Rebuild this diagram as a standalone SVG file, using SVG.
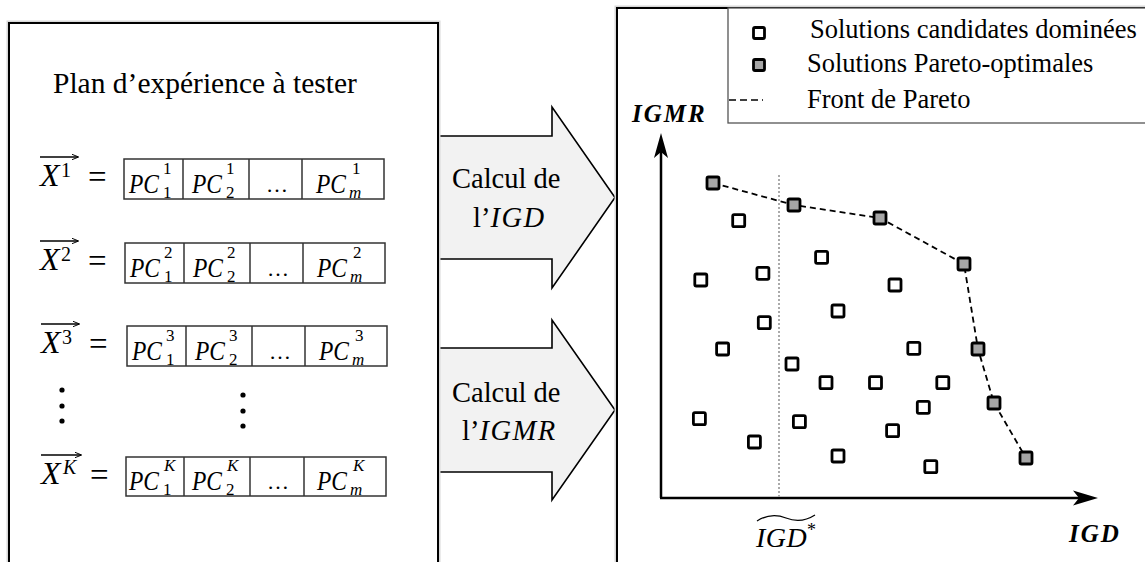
<svg xmlns="http://www.w3.org/2000/svg" width="1145" height="562" viewBox="0 0 1145 562">
<style>
.t{font-family:"Liberation Serif","Times New Roman",serif;fill:#000}
.m{font-family:"Liberation Serif","Times New Roman",serif;font-style:italic;fill:#000}
.up{font-family:"Liberation Serif","Times New Roman",serif;fill:#000}
.pc{font-family:"Liberation Serif","Times New Roman",serif;font-style:italic;font-size:27px;fill:#000}
.s{font-family:"Liberation Serif","Times New Roman",serif;font-size:17px;fill:#000}
.si{font-family:"Liberation Serif","Times New Roman",serif;font-style:italic;font-size:17px;fill:#000}
.panel{fill:#fff;stroke:#000;stroke-width:2}
.halo{fill:none;stroke:#d8d8d8;stroke-width:5}
.arrow{fill:#f2f2f2;stroke:#000;stroke-width:1.6;stroke-linejoin:miter}
.cell{fill:#fff;stroke:#333;stroke-width:1.5}
.dom{fill:#fff;stroke:#000;stroke-width:2.8}
.par{fill:#a6a6a6;stroke:#000;stroke-width:2.8}
.axis{stroke:#000;stroke-width:2.5;fill:none}
.vec{stroke:#000;stroke-width:1.4}
</style>
<defs>
<marker id="vec" viewBox="0 0 10 10" refX="9" refY="5" markerWidth="7" markerHeight="7" orient="auto" markerUnits="userSpaceOnUse">
<path d="M0,1 L10,5 L0,9" fill="none" stroke="#000" stroke-width="1.4"/>
</marker>
</defs>
<rect width="1145" height="562" fill="#fff"/>

<g id="arrows">
<polygon class="arrow" points="438,136 552,136 552,107 615,197.5 552,288 552,259 438,259"/>
<polygon class="arrow" points="438,348 552,348 552,320 615,410 552,500 552,472 438,472"/>
</g>

<g id="left-panel">
<rect class="halo" x="9" y="23" width="429" height="560"/>
<rect class="panel" x="9" y="23" width="429" height="560"/>
<text class="t" x="53" y="93" font-size="29.5">Plan d’expérience à tester</text>
</g>

<g id="row1">
<text class="m" x="40" y="186" font-size="32">X</text>
<text class="up" x="61" y="177" font-size="20">1</text>
<line class="vec" x1="40" y1="157" x2="78" y2="157" marker-end="url(#vec)"/>
<text class="up" x="88" y="188" font-size="33">=</text>
<rect class="cell" x="124" y="159" width="260" height="40"/>
<line class="cell" x1="183" y1="159" x2="183" y2="199"/>
<line class="cell" x1="249" y1="159" x2="249" y2="199"/>
<line class="cell" x1="302" y1="159" x2="302" y2="199"/>
<text class="pc" x="129" y="193" textLength="30" lengthAdjust="spacingAndGlyphs">PC</text>
<text class="s" x="163" y="174">1</text>
<text class="s" x="163" y="198">1</text>
<text class="pc" x="192" y="193" textLength="30" lengthAdjust="spacingAndGlyphs">PC</text>
<text class="s" x="226" y="174">1</text>
<text class="s" x="226" y="198">2</text>
<text class="up" x="266" y="192" font-size="22">…</text>
<text class="pc" x="316" y="193" textLength="30" lengthAdjust="spacingAndGlyphs">PC</text>
<text class="s" x="352" y="174">1</text>
<text class="si" x="349" y="198">m</text>
</g>

<g id="row2">
<text class="m" x="40" y="270" font-size="32">X</text>
<text class="up" x="61" y="261" font-size="20">2</text>
<line class="vec" x1="40" y1="241" x2="78" y2="241" marker-end="url(#vec)"/>
<text class="up" x="88" y="272" font-size="33">=</text>
<rect class="cell" x="125" y="243" width="260" height="40"/>
<line class="cell" x1="184" y1="243" x2="184" y2="283"/>
<line class="cell" x1="250" y1="243" x2="250" y2="283"/>
<line class="cell" x1="303" y1="243" x2="303" y2="283"/>
<text class="pc" x="130" y="277" textLength="30" lengthAdjust="spacingAndGlyphs">PC</text>
<text class="s" x="164" y="258">2</text>
<text class="s" x="164" y="282">1</text>
<text class="pc" x="193" y="277" textLength="30" lengthAdjust="spacingAndGlyphs">PC</text>
<text class="s" x="227" y="258">2</text>
<text class="s" x="227" y="282">2</text>
<text class="up" x="267" y="276" font-size="22">…</text>
<text class="pc" x="317" y="277" textLength="30" lengthAdjust="spacingAndGlyphs">PC</text>
<text class="s" x="353" y="258">2</text>
<text class="si" x="350" y="282">m</text>
</g>

<g id="row3">
<text class="m" x="41" y="353" font-size="32">X</text>
<text class="up" x="62" y="344" font-size="20">3</text>
<line class="vec" x1="41" y1="324" x2="79" y2="324" marker-end="url(#vec)"/>
<text class="up" x="89" y="355" font-size="33">=</text>
<rect class="cell" x="127" y="326" width="260" height="40"/>
<line class="cell" x1="186" y1="326" x2="186" y2="366"/>
<line class="cell" x1="252" y1="326" x2="252" y2="366"/>
<line class="cell" x1="305" y1="326" x2="305" y2="366"/>
<text class="pc" x="132" y="360" textLength="30" lengthAdjust="spacingAndGlyphs">PC</text>
<text class="s" x="166" y="341">3</text>
<text class="s" x="166" y="365">1</text>
<text class="pc" x="195" y="360" textLength="30" lengthAdjust="spacingAndGlyphs">PC</text>
<text class="s" x="229" y="341">3</text>
<text class="s" x="229" y="365">2</text>
<text class="up" x="269" y="359" font-size="22">…</text>
<text class="pc" x="319" y="360" textLength="30" lengthAdjust="spacingAndGlyphs">PC</text>
<text class="s" x="355" y="341">3</text>
<text class="si" x="352" y="365">m</text>
</g>

<g id="ellipsis">
<circle cx="62" cy="390" r="2.6"/>
<circle cx="62" cy="406" r="2.6"/>
<circle cx="62" cy="421" r="2.6"/>
<circle cx="243" cy="395" r="2.6"/>
<circle cx="243" cy="411" r="2.6"/>
<circle cx="243" cy="426" r="2.6"/>
</g>

<g id="rowK">
<text class="m" x="41" y="484" font-size="32">X</text>
<text class="m" x="63" y="474" font-size="20">K</text>
<line class="vec" x1="41" y1="455" x2="81" y2="455" marker-end="url(#vec)"/>
<text class="up" x="90" y="486" font-size="33">=</text>
<rect class="cell" x="126" y="457" width="260" height="39"/>
<line class="cell" x1="184" y1="457" x2="184" y2="496"/>
<line class="cell" x1="250" y1="457" x2="250" y2="496"/>
<line class="cell" x1="304" y1="457" x2="304" y2="496"/>
<text class="pc" x="129" y="490" textLength="30" lengthAdjust="spacingAndGlyphs">PC</text>
<text class="si" x="164" y="471">K</text>
<text class="s" x="163" y="495">1</text>
<text class="pc" x="192" y="490" textLength="30" lengthAdjust="spacingAndGlyphs">PC</text>
<text class="si" x="227" y="471">K</text>
<text class="s" x="226" y="495">2</text>
<text class="up" x="267" y="489" font-size="22">…</text>
<text class="pc" x="317" y="490" textLength="30" lengthAdjust="spacingAndGlyphs">PC</text>
<text class="si" x="353" y="471">K</text>
<text class="si" x="350" y="495">m</text>
</g>

<g id="arrow-labels">
<text class="t" x="452" y="188" font-size="28.5">Calcul de</text>
<text class="t" x="473" y="227" font-size="28.5">l’<tspan font-style="italic" letter-spacing="1.5">IGD</tspan></text>
<text class="t" x="452" y="402" font-size="28.5">Calcul de</text>
<text class="t" x="462" y="440" font-size="28.5">l’<tspan font-style="italic" letter-spacing="1.5">IGMR</tspan></text>
</g>

<g id="right-panel">
<rect class="halo" x="617" y="8" width="600" height="600"/>
<rect class="panel" x="617" y="8" width="600" height="600"/>
</g>

<g id="legend">
<rect x="728" y="8" width="500" height="115" fill="#fff" stroke="#555" stroke-width="1.3"/>
<rect class="dom" x="753.5" y="27.5" width="11" height="11" rx="1.5"/>
<text class="t" x="810" y="38" font-size="26.5">Solutions candidates dominées</text>
<rect class="par" x="753.5" y="59.5" width="11" height="11" rx="1.5"/>
<text class="t" x="807" y="72" font-size="26.5">Solutions Pareto-optimales</text>
<line x1="729" y1="100" x2="763" y2="100" stroke="#000" stroke-width="1.6" stroke-dasharray="7 4"/>
<text class="t" x="807" y="108" font-size="26.5">Front de Pareto</text>
</g>

<g id="axes">
<line class="axis" x1="661" y1="498" x2="661" y2="150"/>
<path d="M661,133 L668,158 L661,152 L654,158 Z" fill="#000"/>
<line class="axis" x1="660" y1="498" x2="1085" y2="498"/>
<path d="M1098,498 L1073,490.5 L1079,498 L1073,505.5 Z" fill="#000"/>
<text class="m" x="632" y="122" font-size="25" font-weight="bold" letter-spacing="2">IGMR</text>
<text class="m" x="1069" y="542" font-size="25" font-weight="bold" letter-spacing="2">IGD</text>
<text class="m" x="756" y="547" font-size="28" letter-spacing="0.5">IGD</text>
<text class="t" x="807" y="536" font-size="18">*</text>
<path d="M757,521 Q771,512 786,518 T815,515" fill="none" stroke="#000" stroke-width="1.2"/>
</g>

<g id="connectors">
<line x1="779" y1="175" x2="779" y2="497" stroke="#aaa" stroke-width="2" stroke-dasharray="2 2"/>
<polyline points="713,183 794,205 880,218 964,264 978,349 994,403 1026,458" fill="none" stroke="#000" stroke-width="1.8" stroke-dasharray="6 4"/>
</g>

<g id="dominated">
<rect class="dom" x="732.7" y="214.7" width="12" height="12" rx="1.5"/>
<rect class="dom" x="694.8" y="274" width="12" height="12" rx="1.5"/>
<rect class="dom" x="756.9" y="267.3" width="12" height="12" rx="1.5"/>
<rect class="dom" x="815.6" y="251.3" width="12" height="12" rx="1.5"/>
<rect class="dom" x="889" y="279" width="12" height="12" rx="1.5"/>
<rect class="dom" x="832" y="305" width="12" height="12" rx="1.5"/>
<rect class="dom" x="758.3" y="316.7" width="12" height="12" rx="1.5"/>
<rect class="dom" x="716.6" y="343" width="12" height="12" rx="1.5"/>
<rect class="dom" x="907.8" y="342.3" width="12" height="12" rx="1.5"/>
<rect class="dom" x="786" y="358" width="12" height="12" rx="1.5"/>
<rect class="dom" x="820" y="376.7" width="12" height="12" rx="1.5"/>
<rect class="dom" x="869.5" y="376.7" width="12" height="12" rx="1.5"/>
<rect class="dom" x="936.8" y="376.7" width="12" height="12" rx="1.5"/>
<rect class="dom" x="917.3" y="401.3" width="12" height="12" rx="1.5"/>
<rect class="dom" x="693.4" y="412.7" width="12" height="12" rx="1.5"/>
<rect class="dom" x="793.4" y="415.7" width="12" height="12" rx="1.5"/>
<rect class="dom" x="886.6" y="424.7" width="12" height="12" rx="1.5"/>
<rect class="dom" x="748.4" y="436" width="12" height="12" rx="1.5"/>
<rect class="dom" x="832" y="450" width="12" height="12" rx="1.5"/>
<rect class="dom" x="924.8" y="460.7" width="12" height="12" rx="1.5"/>
</g>

<g id="pareto">
<rect class="par" x="707" y="177" width="12" height="12" rx="1.5"/>
<rect class="par" x="788" y="199" width="12" height="12" rx="1.5"/>
<rect class="par" x="874" y="212" width="12" height="12" rx="1.5"/>
<rect class="par" x="958" y="258" width="12" height="12" rx="1.5"/>
<rect class="par" x="972" y="343" width="12" height="12" rx="1.5"/>
<rect class="par" x="988" y="397" width="12" height="12" rx="1.5"/>
<rect class="par" x="1020" y="452" width="12" height="12" rx="1.5"/>
</g>
</svg>
